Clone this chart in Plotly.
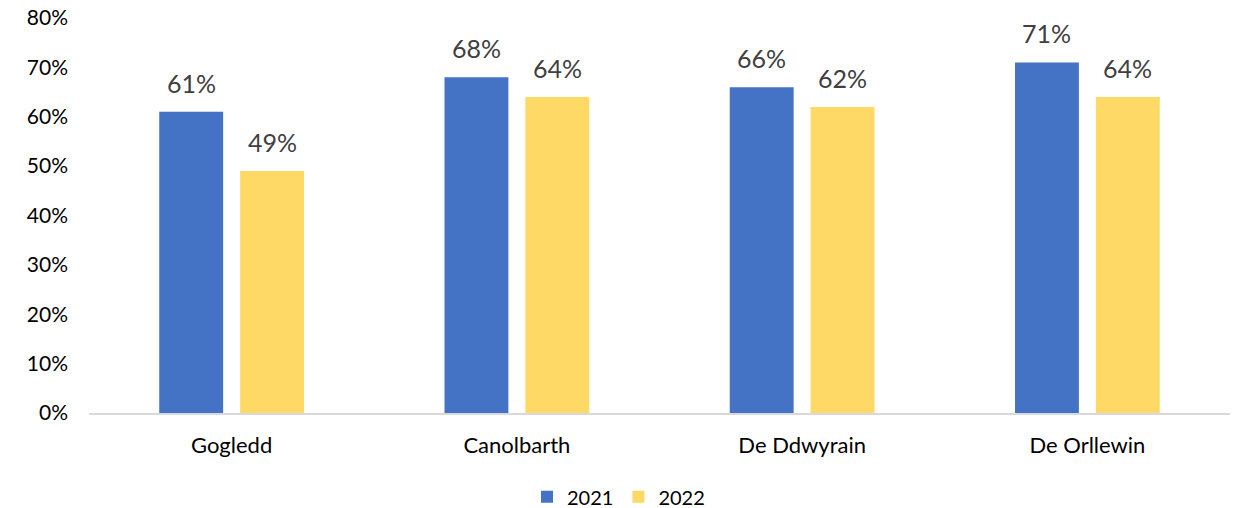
import plotly.graph_objects as go

categories = ["Gogledd", "Canolbarth", "De Ddwyrain", "De Orllewin"]
series_names = ["2021", "2022"]
values_2021 = [61, 68, 66, 71]
values_2022 = [49, 64, 62, 64]
y_ticks = [0, 10, 20, 30, 40, 50, 60, 70, 80]
y_tick_labels = [f"{t}%" for t in y_ticks]

colors = ["#4472C4", "#FFD966"]
FONT = "Lato, Open Sans, sans-serif"

fig = go.Figure()
for name, vals, col in zip(series_names, [values_2021, values_2022], colors):
    fig.add_trace(go.Bar(
        name=name, x=categories, y=vals, marker=dict(color=col, line=dict(width=0)),
        hoverinfo="x+y",
    ))

offsets = [-40.5, 40.5]
for vals, dx in zip([values_2021, values_2022], offsets):
    for c, v in zip(categories, vals):
        fig.add_annotation(x=c, y=v, text=f"{v}%", showarrow=False, xshift=dx,
                           yanchor="bottom", yshift=12,
                           font=dict(family=FONT, size=25, color="#404040"))

fig.update_layout(
    barmode="group", bargap=0.433, bargroupgap=0.21,
    width=1237, height=508,
    margin=dict(l=89, r=7, t=18, b=95, autoexpand=False),
    plot_bgcolor="white", paper_bgcolor="white",
    font=dict(family=FONT, color="black"),
    legend=dict(orientation="h", x=0.5, xanchor="center", xref="container",
                y=0.022, yanchor="middle", yref="container",
                font=dict(family=FONT, size=20), traceorder="normal",
                itemwidth=30),
    showlegend=True,
    xaxis=dict(showline=True, linecolor="#D9D9D9", linewidth=1.5, ticks="",
               automargin=False,
               tickfont=dict(family=FONT, size=22, color="black"), ticklabelstandoff=12),
    yaxis=dict(range=[0, 80], tickvals=y_ticks, ticktext=y_tick_labels, showgrid=False,
               zeroline=False, showline=False, ticks="", automargin=False,
               ticklabeloverflow="allow",
               tickfont=dict(family=FONT, size=21, color="black"), ticklabelstandoff=20),
)

fig.write_html("out.html", config={"displayModeBar": False},
               post_script="document.body.style.margin='0';document.body.style.overflow='hidden';")
